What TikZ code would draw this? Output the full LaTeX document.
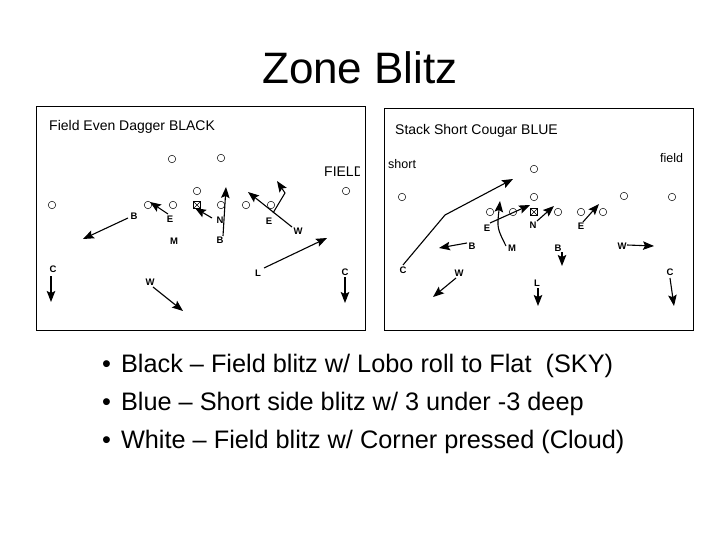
\documentclass[tikz,border=0pt]{standalone}
\usepackage{fontspec}
\setmainfont{Liberation Sans}
\usetikzlibrary{arrows.meta}
\begin{document}
\begin{tikzpicture}[x=1pt,y=-1pt,
  pl/.style={circle,draw,inner sep=0pt,minimum size=7.5pt,line width=0.5pt},
  ctr/.style={rectangle,draw,inner sep=0pt,minimum size=7pt,line width=0.5pt,path picture={\draw (path picture bounding box.south west)--(path picture bounding box.north east) (path picture bounding box.north west)--(path picture bounding box.south east);}},
  lb/.style={font=\fontsize{9.5}{9.5}\selectfont\bfseries,inner sep=0pt},
  mv/.style={line width=1.1pt,-{Stealth[length=11pt,width=8.5pt,inset=2pt]}},
  ttl/.style={font=\fontsize{14}{14}\selectfont,anchor=west,inner sep=0pt},
  panel/.style={draw,line width=0.6pt}]
\useasboundingbox (0,0) rectangle (720,540);
\node[font=\fontsize{44}{44}\selectfont] (title) at (360,68) {Zone Blitz};
% left panel
\draw[panel] (36,106) rectangle (365,330);
\node[ttl] (t1) at (49,127) {Field Even Dagger BLACK};
\begin{scope}
\clip (36,106) rectangle (359,330);
\node[ttl,font=\fontsize{14}{14}\selectfont] (fld) at (324,172) {FIELD};
\end{scope}
\foreach \x/\y [count=\i] in {172/159,221/158,197/191,346/191,52/205,148/205,173/205,221/205,246/205,271/205}
  \node[pl] (lo\i) at (\x,\y) {};
\node[ctr] (lctr) at (197,205) {};
\node[lb] (lB1) at (134,216) {B};
\node[lb] (lE1) at (170,219) {E};
\node[lb] (lN) at (220,220) {N};
\node[lb] (lB2) at (220,240) {B};
\node[lb] (lM) at (174,241) {M};
\node[lb] (lE2) at (269,221) {E};
\node[lb] (lW1) at (298,231) {W};
\node[lb] (lL) at (258,273) {L};
\node[lb] (lC1) at (53,269) {C};
\node[lb] (lC2) at (345,272) {C};
\node[lb] (lW2) at (150,282) {W};
\coordinate (a1) at (83,239); \draw[mv] (128,218) -- (a1);
\coordinate (a2) at (150,202); \draw[mv] (168,214) -- (a2);
\coordinate (a3) at (195,208); \draw[mv] (212,218) -- (a3);
\coordinate (a4) at (226,187); \draw[mv] (223,236) -- (a4);
\coordinate (a5) at (248,192); \draw[mv] (292,227) -- (a5);
\coordinate (a6a) at (285,193); \coordinate (a6) at (277,181); \draw[mv] (273,213) -- (a6a) -- (a6);
\coordinate (a7) at (327,238); \draw[mv] (264,268) -- (a7);
\coordinate (a8) at (51,302); \draw[mv] (51,276) -- (a8);
\coordinate (a9) at (345,303); \draw[mv] (345,277) -- (a9);
\coordinate (a10) at (183,311); \draw[mv] (153,287) -- (a10);
% right panel
\draw[panel] (384,108) rectangle (693,330);
\node[ttl] (t2) at (395,131) {Stack Short Cougar BLUE};
\node[ttl,font=\fontsize{12.5}{12.5}\selectfont] (sh) at (388,164) {short};
\node[ttl,font=\fontsize{12.5}{12.5}\selectfont] (fd) at (660,158) {field};
\foreach \x/\y [count=\i] in {534/169,402/197,534/197,624/196,672/197,490/212,513/212,558/212,581/212,603/212}
  \node[pl] (ro\i) at (\x,\y) {};
\node[ctr] (rctr) at (534,212) {};
\node[lb] (rE1) at (487,228) {E};
\node[lb] (rN) at (533,225) {N};
\node[lb] (rE2) at (581,226) {E};
\node[lb] (rB1) at (472,246) {B};
\node[lb] (rM) at (512,248) {M};
\node[lb] (rB2) at (558,248) {B};
\node[lb] (rW1) at (622,246) {W};
\node[lb] (rC1) at (403,270) {C};
\node[lb] (rW2) at (459,273) {W};
\node[lb] (rL) at (537,283) {L};
\node[lb] (rC2) at (670,272) {C};
\coordinate (b1m) at (445,215); \coordinate (b1) at (513,179); \draw[mv] (403,265) -- (b1m) -- (b1);
\coordinate (b2) at (530,205); \draw[mv] (490,223) -- (b2);
\coordinate (b3) at (500,201); \draw[mv] (506,246) .. controls (497,228) .. (b3);
\coordinate (b4) at (554,206); \draw[mv] (537,221) -- (b4);
\coordinate (b5) at (599,204); \draw[mv] (583,222) -- (b5);
\coordinate (b6) at (439,248); \draw[mv] (467,243) -- (b6);
\coordinate (b7) at (562,266); \draw[mv] (562,252) -- (b7);
\coordinate (b8) at (654,246); \draw[mv] (627,245) -- (b8);
\coordinate (b9) at (433,297); \draw[mv] (456,278) -- (b9);
\coordinate (b10) at (538,306); \draw[mv] (538,288) -- (b10);
\coordinate (b11) at (674,306); \draw[mv] (670,278) -- (b11);
% bullets
\begin{scope}[every node/.style={anchor=west,font=\fontsize{25.3}{25}\selectfont,inner sep=0pt}]
\node (bl1) at (102,366) {•\hspace{10pt}Black – Field blitz w/ Lobo roll to Flat\ \ (SKY)};
\node (bl2) at (102,404) {•\hspace{10pt}Blue – Short side blitz w/ 3 under -3 deep};
\node (bl3) at (102,442) {•\hspace{10pt}White – Field blitz w/ Corner pressed (Cloud)};
\end{scope}
\end{tikzpicture}
\end{document}
